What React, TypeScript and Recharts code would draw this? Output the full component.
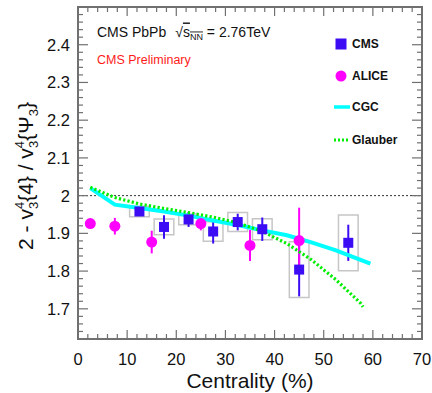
import React from "react";
import {
    ComposedChart,
    Scatter,
    Line,
    XAxis,
    YAxis,
    ErrorBar,
    ReferenceLine,
    ReferenceArea,
} from "recharts";

// CMS points: centrality bin centre, value, stat error, systematic error
const cmsCentrality = [12.5, 17.5, 22.5, 27.5, 32.5, 37.5, 45, 55];
const cmsValue = [1.958, 1.917, 1.937, 1.905, 1.93, 1.911, 1.804, 1.875];
const cmsStat = [0.012, 0.031, 0.02, 0.032, 0.022, 0.031, 0.071, 0.048];
const cmsSys = [0.014, 0.021, 0.014, 0.026, 0.025, 0.028, 0.074, 0.074];
const cmsSysHalfWidth = 2;

// ALICE points
const aliceCentrality = [2.5, 7.5, 15, 25, 35, 45];
const aliceValue = [1.926, 1.919, 1.877, 1.926, 1.868, 1.881];
const aliceStat = [0.004, 0.022, 0.03, 0.018, 0.041, 0.087];

// model curves
const cgcCentrality = [2.5, 7.5, 12.5, 17.5, 22.5, 27.5, 32.5, 37.5, 42.5, 47.5, 52.5, 57.5, 59.5];
const cgcValue = [2.02, 1.976, 1.967, 1.958, 1.947, 1.934, 1.922, 1.908, 1.895, 1.876, 1.855, 1.83, 1.82];
const glauberCentrality = [2.5, 7.5, 12.5, 17.5, 22.5, 27.5, 32.5, 37.5, 42.5, 47.5, 52.5, 57.5, 58];
const glauberValue = [2.022, 1.995, 1.978, 1.966, 1.955, 1.943, 1.928, 1.905, 1.873, 1.83, 1.777, 1.715, 1.705];

const xLabelTicks = [0, 10, 20, 30, 40, 50, 60, 70];
const yLabelTicks = [1.7, 1.8, 1.9, 2.0, 2.1, 2.2, 2.3, 2.4];

const cmsData = cmsCentrality.map((x, i) => ({ x, y: cmsValue[i], err: cmsStat[i] }));
const aliceData = aliceCentrality.map((x, i) => ({ x, y: aliceValue[i], err: aliceStat[i] }));
const cgcData = cgcCentrality.map((x, i) => ({ x, y: cgcValue[i] }));
const glauberData = glauberCentrality.map((x, i) => ({ x, y: glauberValue[i] }));

// minor ticks every 2% / 0.02
const xTicks: number[] = [];
for (let i = 0; i <= 35; i++) xTicks.push(i * 2);
const yTicks: number[] = [];
for (let i = 0; i <= 43; i++) yTicks.push(Math.round((1.62 + i * 0.02) * 100) / 100);

const W = 432;
const H = 393;
const M = { top: 7, right: 10, left: 0, bottom: 0 };
const PLOT_TOP = M.top;
const PLOT_RIGHT = W - M.right;
const Y_AXIS_W = 78;
const FONT = "'Liberation Sans', Arial, Helvetica, sans-serif";
const FRAME = "#707070";
const BLUE = "#3c0cf5";
const MAGENTA = "#ff00ff";

const isMajor = (v: number, step: number) => Math.abs(v / step - Math.round(v / step)) < 1e-6;

function XTick(props: any) {
    const { x, y, payload } = props;
    const v = payload.value;
    const major = xLabelTicks.includes(v);
    const len = major ? 9 : 5;
    return (
        <g>
            <line x1={x} x2={x} y1={y} y2={y - len} stroke={FRAME} strokeWidth={1.2} />
            <line x1={x} x2={x} y1={PLOT_TOP} y2={PLOT_TOP + len} stroke={FRAME} strokeWidth={1.2} />
            {major && (
                <text x={x} y={y + 26} textAnchor="middle" fontSize={16.5} fontFamily={FONT} fill="#111">
                    {v}
                </text>
            )}
        </g>
    );
}

function YTick(props: any) {
    const { x, y, payload } = props;
    const v = payload.value;
    const major = isMajor(v, 0.1);
    const labelled = yLabelTicks.some((t) => Math.abs(t - v) < 1e-6);
    const len = major ? 10 : 5;
    return (
        <g>
            <line x1={x} x2={x + len} y1={y} y2={y} stroke={FRAME} strokeWidth={1.2} />
            <line x1={PLOT_RIGHT} x2={PLOT_RIGHT - len} y1={y} y2={y} stroke={FRAME} strokeWidth={1.2} />
            {labelled && (
                <text x={x - 8} y={y} dy="0.36em" textAnchor="end" fontSize={16.5} fontFamily={FONT} fill="#111">
                    {String(Number(v.toFixed(1)))}
                </text>
            )}
        </g>
    );
}

const square = (p: any) => <rect x={p.cx - 5} y={p.cy - 5} width={10} height={10} fill={BLUE} />;
const circle = (p: any) => <circle cx={p.cx} cy={p.cy} r={5.5} fill={MAGENTA} />;

function XLabel(props: any) {
    const vb = props.viewBox;
    return (
        <text x={vb.x + vb.width / 2} y={vb.y + 49} textAnchor="middle" fontSize={21} fontFamily={FONT} fill="#111">
            Centrality (%)
        </text>
    );
}

function YLabel() {
    const cx = 33;
    const cy = 176;
    return (
        <text
            x={cx}
            y={cy}
            textAnchor="middle"
            fontSize={21}
            fontFamily={FONT}
            fill="#111"
            transform={`rotate(-90 ${cx} ${cy})`}
        >
            2 - v
            <tspan fontSize={13} dy={-9}>4</tspan>
            <tspan fontSize={13} dx={-7.2} dy={14}>3</tspan>
            <tspan dy={-5}>{"{4} / v"}</tspan>
            <tspan fontSize={13} dy={-9}>4</tspan>
            <tspan fontSize={13} dx={-7.2} dy={14}>3</tspan>
            <tspan dy={-5}>{"{Ψ"}</tspan>
            <tspan fontSize={13} dy={5}>3</tspan>
            <tspan dy={-5}>{"}"}</tspan>
        </text>
    );
}

function Overlay() {
    const legendX = 352;
    const rows = [44, 76, 107, 140];
    return (
        <svg width={W} height={H} style={{ position: "absolute", left: 0, top: 0, pointerEvents: "none" }}>
            <text x={97} y={36.5} fontSize={14} fontFamily={FONT} fill="#111">
                CMS PbPb
                <tspan dx={9}>√</tspan>
                <tspan textDecoration="overline">s</tspan>
                <tspan fontSize={9} dy={3} textDecoration="overline">NN</tspan>
                <tspan dy={-3}>{" = 2.76TeV"}</tspan>
            </text>
            <text x={97} y={63.5} fontSize={12.5} fontFamily={FONT} fill="#ff1a1a">
                CMS Preliminary
            </text>

            <rect x={335.5} y={rows[0] - 5.5} width={11} height={11} fill={BLUE} />
            <circle cx={341} cy={rows[1]} r={5.5} fill={MAGENTA} />
            <line x1={334} x2={350} y1={rows[2]} y2={rows[2]} stroke="#00ffff" strokeWidth={3.5} />
            <line x1={334} x2={350} y1={rows[3]} y2={rows[3]} stroke="#00ee00" strokeWidth={3} strokeDasharray="2 2" />
            {["CMS", "ALICE", "CGC", "Glauber"].map((t, i) => (
                <text key={t} x={legendX} y={rows[i]} dy="0.36em" fontSize={12} fontWeight="bold" fontFamily={FONT} fill="#111">
                    {t}
                </text>
            ))}
        </svg>
    );
}

export default function App() {
    return (
        <div style={{ position: "absolute", left: 0, top: 0, width: W, height: H, background: "#fff" }}>
            <ComposedChart width={W} height={H} margin={M}>
                <XAxis
                    type="number"
                    dataKey="x"
                    domain={[0, 70]}
                    ticks={xTicks}
                    interval={0}
                    tickSize={0}
                    tickMargin={0}
                    tick={<XTick />}
                    axisLine={false}
                    tickLine={false}
                    height={54}
                    allowDataOverflow
                    label={<XLabel />}
                />
                <YAxis
                    type="number"
                    domain={[1.62, 2.5]}
                    ticks={yTicks}
                    interval={0}
                    tickSize={0}
                    tickMargin={0}
                    tick={<YTick />}
                    axisLine={false}
                    tickLine={false}
                    width={Y_AXIS_W}
                    allowDataOverflow
                />

                <ReferenceLine y={2} stroke="#333" strokeWidth={1} strokeDasharray="2 2" />

                {cmsData.map((d, i) => (
                    <ReferenceArea
                        key={i}
                        x1={d.x - cmsSysHalfWidth}
                        x2={d.x + cmsSysHalfWidth}
                        y1={d.y - cmsSys[i]}
                        y2={d.y + cmsSys[i]}
                        fill="none"
                        fillOpacity={0}
                        stroke="#c6c6c6"
                        strokeWidth={1.5}
                        ifOverflow="visible"
                    />
                ))}

                <Scatter data={cmsData} dataKey="y" shape={square} isAnimationActive={false}>
                    <ErrorBar dataKey="err" direction="y" width={0} stroke={BLUE} strokeWidth={2} />
                </Scatter>
                <Scatter data={aliceData} dataKey="y" shape={circle} isAnimationActive={false}>
                    <ErrorBar dataKey="err" direction="y" width={0} stroke={MAGENTA} strokeWidth={2} />
                </Scatter>

                <Line
                    data={cgcData}
                    dataKey="y"
                    type="linear"
                    stroke="#00ffff"
                    strokeWidth={4}
                    dot={false}
                    activeDot={false}
                    isAnimationActive={false}
                />
                <Line
                    data={glauberData}
                    dataKey="y"
                    type="linear"
                    stroke="#00ee00"
                    strokeWidth={3.2}
                    strokeDasharray="2.2 2.2"
                    dot={false}
                    activeDot={false}
                    isAnimationActive={false}
                />

                <ReferenceArea
                    x1={0}
                    x2={70}
                    y1={1.62}
                    y2={2.5}
                    fill="none"
                    fillOpacity={0}
                    stroke={FRAME}
                    strokeWidth={2}
                    ifOverflow="visible"
                />
            </ComposedChart>
            <svg width={W} height={H} style={{ position: "absolute", left: 0, top: 0, pointerEvents: "none" }}>
                <YLabel />
            </svg>
            <Overlay />
        </div>
    );
}
